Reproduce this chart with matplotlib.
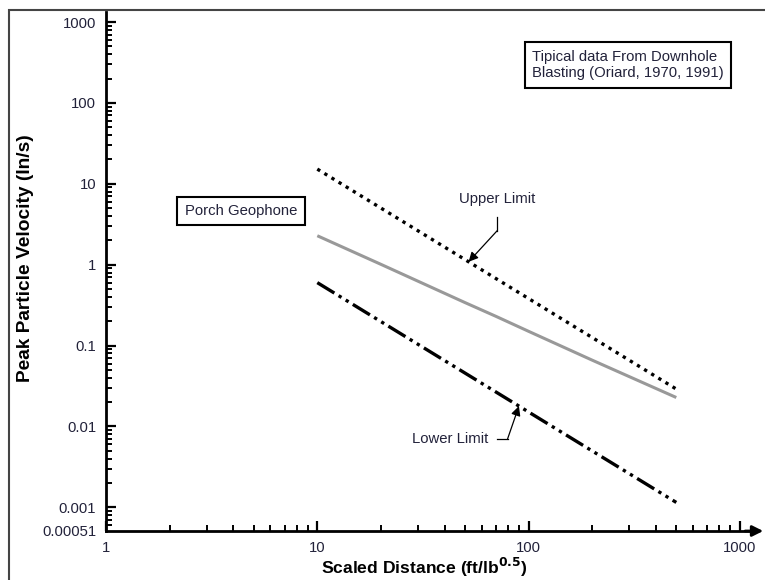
import numpy as np
import matplotlib
matplotlib.use("Agg")
import matplotlib.pyplot as plt
import matplotlib.ticker as ticker
from matplotlib.patches import Rectangle

plt.rcParams["font.family"] = ["Liberation Sans", "DejaVu Sans"]

# Oriard (1970, 1991) downhole blasting envelope, PPV vs scaled distance
upper_sd = [10, 500]
upper_ppv = [15.2, 0.029]
lower_sd = [10, 500]
lower_ppv = [0.6, 0.00115]
porch_sd = [10, 20, 50, 70, 100, 200, 500]
porch_ppv = [2.28, 1.01, 0.34, 0.23, 0.15, 0.066, 0.0228]

x_ticks = [1, 10, 100, 1000]
x_labels = ["1", "10", "100", "1000"]
y_ticks = [0.00051, 0.001, 0.01, 0.1, 1, 10, 100, 1000]
y_labels = ["0.00051", "0.001", "0.01", "0.1", "1", "10", "100", "1000"]

TXT = "#22223a"


def on_line(xs, ys, x):
    """Log-log interpolation of a straight envelope line at x."""
    return 10 ** np.interp(np.log10(x), np.log10(xs), np.log10(ys))


fig = plt.figure(figsize=(7.65, 5.8), dpi=100)
ax = fig.add_axes([106 / 765, 1 - 531 / 580, 646 / 765, 519 / 580])

ax.set_xscale("log")
ax.set_yscale("log")
ax.set_xlim(1, 10 ** (646 / 211.3))
ax.set_ylim(0.00051, 1330)

ax.plot(upper_sd, upper_ppv, color="black", lw=2.4, linestyle=(0, (1, 1.5)))
ax.plot(porch_sd, porch_ppv, color="#999999", lw=2.2, solid_capstyle="butt")
ax.plot(lower_sd, lower_ppv, color="black", lw=2.4,
        linestyle=(0, (6, 1.5, 1, 1.5, 1, 1.5)))

# spines and ticks
for side in ("top", "right"):
    ax.spines[side].set_visible(False)
for side in ("left", "bottom"):
    ax.spines[side].set_linewidth(2)
ax.set_xticks(x_ticks)
ax.set_xticklabels(x_labels)
ax.set_yticks(y_ticks)
ax.set_yticklabels(y_labels)
ax.xaxis.set_minor_locator(ticker.LogLocator(base=10, subs=np.arange(2, 10), numticks=20))
ax.yaxis.set_minor_locator(ticker.LogLocator(base=10, subs=np.arange(2, 10), numticks=20))
ax.xaxis.set_minor_formatter(ticker.NullFormatter())
ax.yaxis.set_minor_formatter(ticker.NullFormatter())
ax.tick_params(which="major", direction="in", length=7, width=1.6,
               labelsize=10.7, labelcolor=TXT, pad=7)
ax.tick_params(which="minor", direction="in", length=4.5, width=1.4)
# the 0.00051 tick is only the axis floor
ax.yaxis.get_major_ticks()[0].tick1line.set_visible(False)

# arrow at the end of the x axis
ax.annotate("", xy=(1.0 + 14 / 646, 0), xytext=(0.985, 0),
            xycoords="axes fraction", textcoords="axes fraction",
            arrowprops=dict(arrowstyle="-|>", color="black", lw=2,
                            mutation_scale=16), annotation_clip=False)

ax.set_xlabel(r"Scaled Distance (ft/lb$^{\mathbf{0.5}}$)", fontsize=12.6,
              fontweight="bold")
ax.set_ylabel("Peak Particle Velocity (In/s)", fontsize=13.8,
              fontweight="bold")
ax.xaxis.set_label_coords(0.492, -0.048)
ax.yaxis.set_label_coords(-0.112, 0.526)

# Upper limit callout
tip_x = 52
tip_y = on_line(upper_sd, upper_ppv, tip_x)
ax.plot([71, 71], [2.63, 3.85], color="black", lw=0.9)
ax.annotate("", xy=(tip_x, tip_y), xytext=(71, 2.63),
            arrowprops=dict(arrowstyle="-|>", color="black", lw=0.9,
                            mutation_scale=14, shrinkA=0, shrinkB=0))
ax.text(71, 6.4, "Upper Limit", ha="center", va="center",
        fontsize=10.7, color=TXT)

# Lower limit callout
tip_x = 90
tip_y = on_line(lower_sd, lower_ppv, tip_x)
ax.plot([70.5, 79.5], [0.007, 0.007], color="black", lw=0.9)
ax.annotate("", xy=(tip_x, tip_y), xytext=(79.5, 0.007),
            arrowprops=dict(arrowstyle="-|>", color="black", lw=0.9,
                            mutation_scale=14, shrinkA=0, shrinkB=0))
ax.text(42.5, 0.007, "Lower Limit", ha="center", va="center",
        fontsize=10.7, color=TXT)

box = dict(boxstyle="square,pad=0.5", facecolor="white",
           edgecolor="black", linewidth=1.5)
fig.text(532 / 765, 1 - 65 / 580,
         "Tipical data From Downhole\nBlasting (Oriard, 1970, 1991)",
         ha="left", va="center", fontsize=10.7, color=TXT,
         linespacing=1.2, bbox=box)
fig.text(241 / 765, 1 - 211 / 580, "Porch Geophone", ha="center",
         va="center", fontsize=10.7, color=TXT, bbox=box)

# outer frame, open to the right and bottom
fig.patches.append(Rectangle((9 / 765, -0.1), 1.2, 1 - 10 / 580 + 0.1,
                             transform=fig.transFigure, fill=False,
                             edgecolor="#444444", lw=1.5))

fig.savefig("out.png", dpi=100)
